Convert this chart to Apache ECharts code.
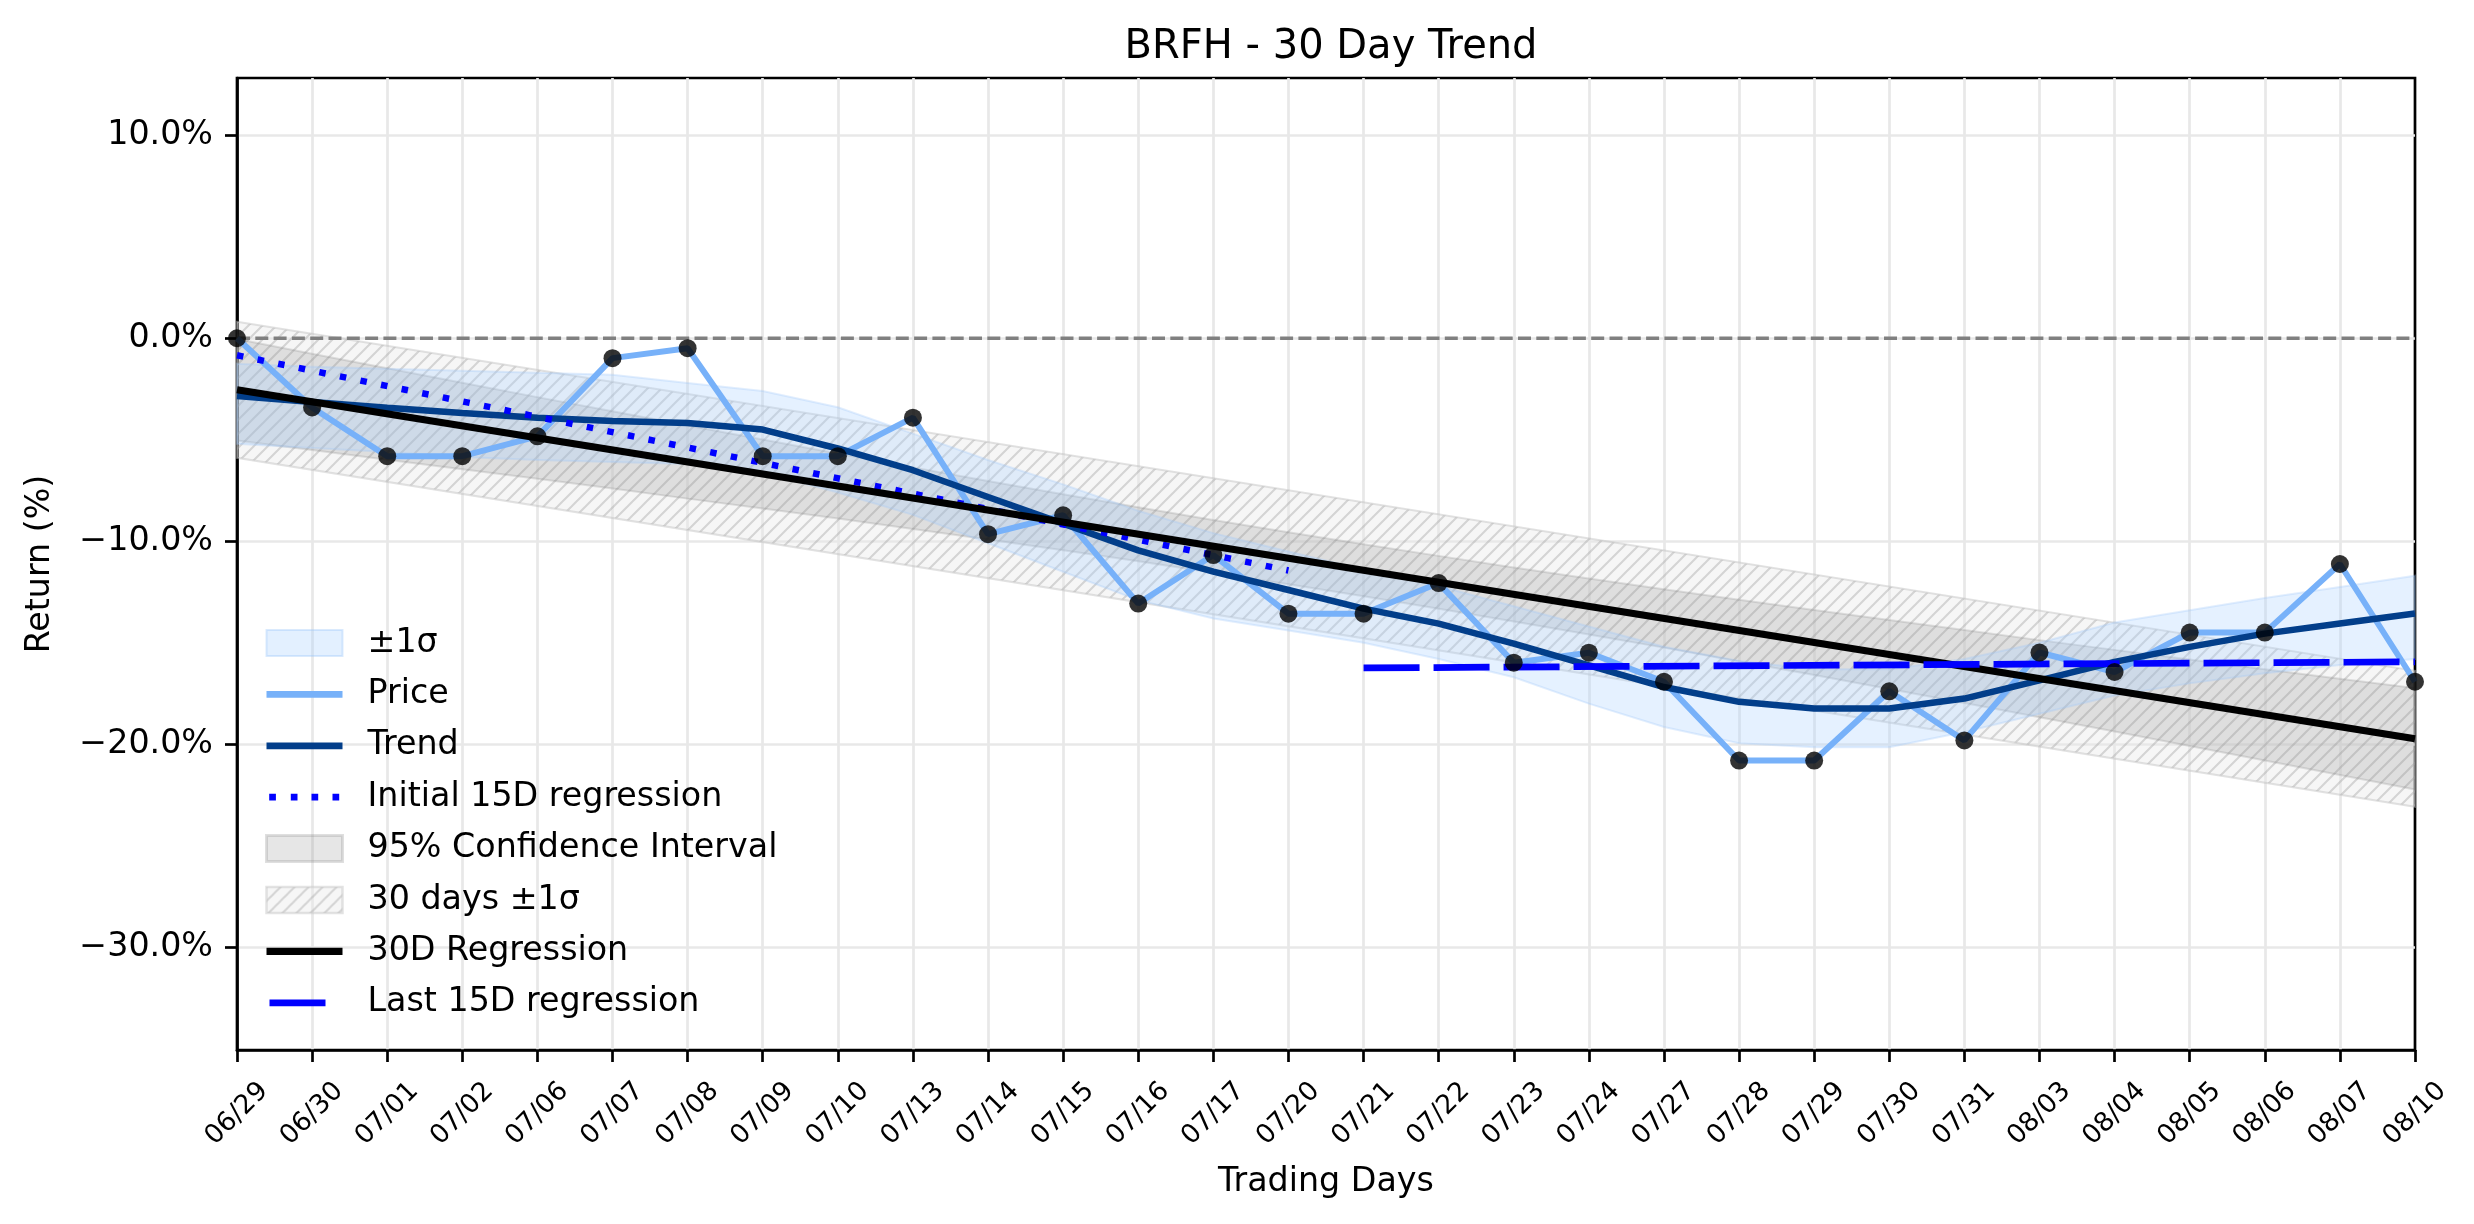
<!DOCTYPE html>
<html>
<head>
<meta charset="utf-8">
<script src="https://cdn.jsdelivr.net/npm/echarts@6/dist/echarts.min.js"></script>
<style>
html,body{margin:0;padding:0;background:#ffffff;}
#chart{width:2474px;height:1224px;}
</style>
</head>
<body>
<div id="chart"></div>
<script>
// ---------- data ----------
const dates = ['06/29','06/30','07/01','07/02','07/06','07/07','07/08','07/09','07/10','07/13',
  '07/14','07/15','07/16','07/17','07/20','07/21','07/22','07/23','07/24','07/27',
  '07/28','07/29','07/30','07/31','08/03','08/04','08/05','08/06','08/07','08/10'];

const price = [0.00,-3.41,-5.81,-5.81,-4.83,-0.98,-0.49,-5.81,-5.81,-3.91,
  -9.65,-8.72,-13.07,-10.68,-13.57,-13.57,-12.06,-15.98,-15.49,-16.92,
  -20.80,-20.80,-17.39,-19.81,-15.48,-16.44,-14.50,-14.50,-11.12,-16.92];

const trend = [-2.85,-3.14,-3.42,-3.68,-3.91,-4.07,-4.17,-4.50,-5.43,-6.50,
  -7.82,-9.13,-10.45,-11.50,-12.40,-13.32,-14.06,-15.04,-16.11,-17.18,
  -17.91,-18.24,-18.24,-17.75,-16.85,-15.94,-15.20,-14.55,-14.05,-13.56];

const sigmaUpper = [-1.25,-1.40,-1.50,-1.60,-1.70,-1.80,-2.20,-2.60,-3.40,-4.70,
  -6.00,-7.20,-8.50,-9.60,-10.50,-11.40,-12.20,-13.20,-14.20,-15.20,
  -15.90,-16.30,-16.30,-15.80,-15.00,-14.00,-13.40,-12.80,-12.25,-11.70];

const sigmaLower = [-5.20,-5.40,-5.60,-5.85,-6.00,-6.10,-6.20,-6.60,-7.60,-8.70,
  -10.10,-11.50,-12.90,-13.80,-14.40,-15.00,-15.80,-16.70,-18.00,-19.15,
  -19.95,-20.15,-20.15,-19.40,-18.50,-17.60,-17.00,-16.50,-16.10,-15.80];

const ciUpper = [-0.04,-0.76,-1.48,-2.19,-2.90,-3.60,-4.30,-4.99,-5.68,-6.36,
  -7.03,-7.68,-8.32,-8.95,-9.56,-10.15,-10.72,-11.29,-11.83,-12.36,
  -12.88,-13.39,-13.88,-14.37,-14.87,-15.35,-15.82,-16.30,-16.77,-17.23];

const ciLower = [-5.04,-5.50,-5.98,-6.45,-6.92,-7.40,-7.90,-8.39,-8.88,-9.40,
  -9.91,-10.44,-10.98,-11.55,-12.12,-12.71,-13.32,-13.95,-14.59,-15.24,
  -15.92,-16.59,-17.28,-17.97,-18.67,-19.37,-20.08,-20.80,-21.51,-22.23];

const regX = [0, 29];
const reg30 = [-2.54, -19.73];
const hatchUpper = [0.81, -16.38];
const hatchLower = [-5.89, -23.08];

const initX = [0, 14];
const initReg = [-0.84, -11.44];

const lastX = [15, 29];
const lastReg = [-16.24, -15.94];

const zeroX = [0, 29];
const zeroY = [0, 0];

const yTicks = [-30, -20, -10, 0, 10];
const yMin = -35.06;
const yMax = 12.82;

// ---------- helpers ----------
const FONT = 'DejaVu Sans';

function makeHatch() {
  const s = 14;
  const c = document.createElement('canvas');
  c.width = s; c.height = s;
  const g = c.getContext('2d');
  g.fillStyle = 'rgba(232,232,232,0.40)';
  g.fillRect(0, 0, s, s);
  g.strokeStyle = 'rgba(165,165,165,0.42)';
  g.lineWidth = 2;
  g.beginPath();
  g.moveTo(0, s); g.lineTo(s, 0);
  g.moveTo(-2, 2); g.lineTo(2, -2);
  g.moveTo(s - 2, s + 2); g.lineTo(s + 2, s - 2);
  g.stroke();
  return c;
}
const hatchCanvas = makeHatch();
const hatchFill = { image: hatchCanvas, repeat: 'repeat' };

function pairs(xs, ys) { return xs.map((x, i) => [x, ys[i]]); }

// legend handle shapes (icon box 76 x 26; tiny corner dots fix the bounding box)
const BOX = 'M0,0h0.01v0.01h-0.01z M75.99,25.99h0.01v0.01h-0.01z ';
function barIcon(x0, x1, h) {
  const y = 13 - h / 2;
  return 'path://' + BOX + 'M' + x0 + ',' + y + 'h' + (x1 - x0) + 'v' + h + 'h' + (x0 - x1) + 'z';
}
function dotIcon(starts, w, h) {
  const y = 13 - h / 2;
  return 'path://' + BOX + starts.map(x => 'M' + x + ',' + y + 'h' + w + 'v' + h + 'h' + (-w) + 'z').join(' ');
}

function bandSeries(name, xs, upper, lower, style, z) {
  return {
    type: 'custom',
    name: name,
    z: z,
    silent: true,
    data: xs.map((x, i) => [x, upper[i], lower[i]]),
    encode: { x: 0, y: [1, 2] },
    renderItem: function (params, api) {
      if (params.dataIndex !== 0) return null;
      const pts = [];
      for (let i = 0; i < xs.length; i++) pts.push(api.coord([xs[i], upper[i]]));
      for (let i = xs.length - 1; i >= 0; i--) pts.push(api.coord([xs[i], lower[i]]));
      return { type: 'polygon', shape: { points: pts }, style: style };
    }
  };
}

const idx = dates.map((d, i) => i);

const chart = echarts.init(document.getElementById('chart'), null, { renderer: 'canvas' });

const option = {
  animation: false,
  backgroundColor: '#ffffff',
  textStyle: { fontFamily: FONT },
  title: {
    text: 'BRFH - 30 Day Trend',
    left: 1326,
    textAlign: 'center',
    top: 23,
    textStyle: { fontFamily: FONT, fontSize: 40, fontWeight: 'normal', color: '#000' }
  },
  grid: {
    left: 237, right: 59, top: 78, bottom: 174,
    show: true, borderColor: '#000', borderWidth: 2.7, backgroundColor: 'transparent'
  },
  legend: {
    orient: 'vertical',
    left: 260,
    top: 621,
    itemWidth: 76,
    itemHeight: 26,
    itemGap: 17.4,
    selectedMode: false,
    textStyle: { fontFamily: FONT, fontSize: 33.3, color: '#000', lineHeight: 34, padding: [0, 0, 0, 20] },
    data: [
      { name: '±1σ', icon: 'rect', itemStyle: { color: 'rgba(170,210,255,0.33)', borderColor: 'rgba(150,195,250,0.35)', borderWidth: 2 } },
      { name: 'Price', icon: barIcon(0, 76, 6.7), itemStyle: { color: '#77b1f9', borderWidth: 0 } },
      { name: 'Trend', icon: barIcon(0, 76, 6.7), itemStyle: { color: '#023e8a', borderWidth: 0 } },
      { name: 'Initial 15D regression', icon: dotIcon([2.7, 24.3, 45, 66], 6.7, 6.7), itemStyle: { color: '#0000ff', borderWidth: 0 } },
      { name: '95% Confidence Interval', icon: 'rect', itemStyle: { color: 'rgba(128,128,128,0.2)', borderColor: 'rgba(128,128,128,0.25)', borderWidth: 3 } },
      { name: '30 days ±1σ', icon: 'rect', itemStyle: { color: hatchFill, borderColor: 'rgba(200,200,200,0.5)', borderWidth: 2.5 } },
      { name: '30D Regression', icon: barIcon(0, 76, 7.4), itemStyle: { color: '#000000', borderWidth: 0 } },
      { name: 'Last 15D regression', icon: barIcon(3, 59, 6.7), itemStyle: { color: '#0000ff', borderWidth: 0 } }
    ]
  },
  xAxis: {
    type: 'category',
    data: dates,
    boundaryGap: false,
    name: 'Trading Days',
    nameLocation: 'middle',
    nameGap: 116,
    nameTextStyle: { fontFamily: FONT, fontSize: 33.3, color: '#000' },
    axisLine: { show: true, onZero: false, lineStyle: { color: '#000', width: 2.7 } },
    axisTick: { show: true, interval: 0, length: 12, lineStyle: { color: '#000', width: 2.7 } },
    axisLabel: {
      interval: 0, rotate: 45, fontFamily: FONT, fontSize: 26.5, color: '#000',
      align: 'center', verticalAlign: 'middle', margin: 64, hideOverlap: false
    },
    splitLine: { show: true, interval: 0, showMinLine: false, showMaxLine: false, lineStyle: { color: '#e8e8e8', width: 2.7 } }
  },
  yAxis: {
    type: 'value',
    min: yMin,
    max: yMax,
    name: 'Return (%)',
    nameLocation: 'middle',
    nameGap: 180,
    nameTextStyle: { fontFamily: FONT, fontSize: 33.3, color: '#000' },
    axisLine: { show: true, onZero: false, lineStyle: { color: '#000', width: 2.7 } },
    axisTick: { show: true, length: 12, customValues: yTicks, lineStyle: { color: '#000', width: 2.7 } },
    axisLabel: {
      customValues: yTicks, fontFamily: FONT, fontSize: 33.3, color: '#000', margin: 24,
      formatter: v => (v < 0 ? '\u2212' : '') + Math.abs(v).toFixed(1) + '%'
    },
    splitLine: { show: true, lineStyle: { color: '#e8e8e8', width: 2.7 } }
  },
  series: [
    bandSeries('30 days ±1σ', regX, hatchUpper, hatchLower,
      { fill: hatchFill, stroke: 'rgba(190,190,190,0.45)', lineWidth: 2 }, 1),
    bandSeries('95% Confidence Interval', idx, ciUpper, ciLower,
      { fill: 'rgba(128,128,128,0.2)', stroke: 'rgba(128,128,128,0.22)', lineWidth: 2 }, 1),
    bandSeries('±1σ', idx, sigmaUpper, sigmaLower,
      { fill: 'rgba(170,210,255,0.30)', stroke: 'rgba(160,200,250,0.30)', lineWidth: 2 }, 1),
    {
      type: 'line', name: 'zero', z: 2, data: pairs(zeroX, zeroY), symbol: 'none', showSymbol: false, silent: true,
      lineStyle: { color: '#808080', width: 3.3, type: [13, 5.3], cap: 'butt' }, itemStyle: { color: '#808080' }
    },
    {
      type: 'line', name: 'Price', z: 3, data: price, symbol: 'none', showSymbol: false,
      lineStyle: { color: '#77b1f9', width: 6 }, itemStyle: { color: '#77b1f9' }
    },
    {
      type: 'line', name: 'Trend', z: 3, data: trend, symbol: 'none', showSymbol: false,
      lineStyle: { color: '#023e8a', width: 6.5 }, itemStyle: { color: '#023e8a' }
    },
    {
      type: 'line', name: 'Initial 15D regression', z: 4, data: pairs(initX, initReg), symbol: 'none', showSymbol: false,
      lineStyle: { color: '#0000ff', width: 6.5, type: [6.5, 14.5], cap: 'butt' }, itemStyle: { color: '#0000ff' }
    },
    {
      type: 'line', name: '30D Regression', z: 4, data: pairs(regX, reg30), symbol: 'none', showSymbol: false,
      lineStyle: { color: '#000000', width: 7.2 }, itemStyle: { color: '#000000' }
    },
    {
      type: 'line', name: 'Last 15D regression', z: 4, data: pairs(lastX, lastReg), symbol: 'none', showSymbol: false,
      lineStyle: { color: '#0000ff', width: 6.7, type: [56, 14], cap: 'butt' }, itemStyle: { color: '#0000ff' }
    },
    {
      type: 'scatter', name: 'points', z: 5, data: price, symbol: 'circle', symbolSize: 18,
      itemStyle: { color: '#000000' }, silent: true
    }
  ]
};

chart.setOption(option);
</script>
</body>
</html>
